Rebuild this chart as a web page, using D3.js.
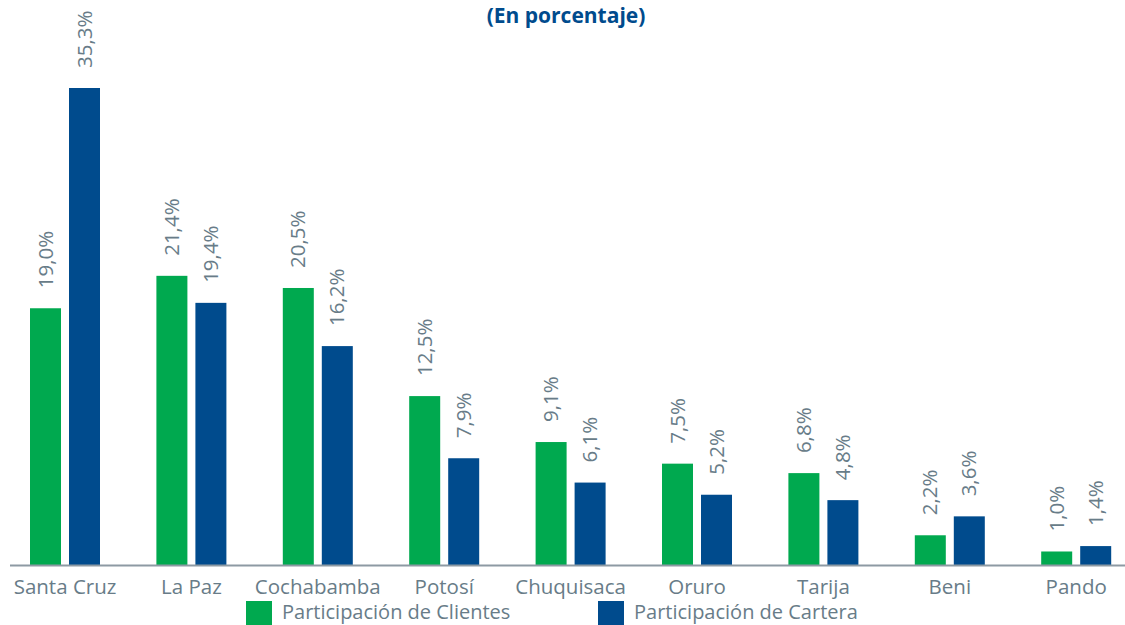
<!DOCTYPE html>
<html><head><meta charset="utf-8">
<script src="https://cdn.jsdelivr.net/npm/d3@7"></script>
<style>body{margin:0;background:#fff;} svg{display:block;}</style>
</head><body>
<svg id="chart" width="1125" height="625"></svg>
<script>
const categories = ["Santa Cruz","La Paz","Cochabamba","Potosí","Chuquisaca","Oruro","Tarija","Beni","Pando"];
const clientes = [19.0,21.4,20.5,12.5,9.1,7.5,6.8,2.2,1.0];
const cartera = [35.3,19.4,16.2,7.9,6.1,5.2,4.8,3.6,1.4];
const seriesNames = ["Participación de Clientes","Participación de Cartera"];
const colors = ["#00a94f","#004b8d"];
const title = "(En porcentaje)";

const svg = d3.select("#chart");
const font = "'Open Sans', sans-serif";
const textColor = "#687c88";
const y0 = 565;
const x = d3.scaleBand().domain(categories).range([1.8, 1139.4]).paddingInner(0).paddingOuter(0);
const y = d3.scaleLinear().domain([0, 35.3]).range([y0, 88]);
const barW = 31, gap = 8;
const fmt = v => v.toFixed(1).replace(".", ",") + "%";

svg.append("text").attr("x", 566).attr("y", 23).attr("text-anchor","middle")
  .attr("font-family", font).attr("font-weight","bold").attr("font-size",21)
  .attr("fill","#004b8d").text(title);

const data = categories.map((c,i)=>({c, vals:[clientes[i], cartera[i]]}));
const g = svg.append("g");
data.forEach(d=>{
  d.vals.forEach((v,k)=>{
    const cx = x(d.c) + x.bandwidth()/2;
    const bx = k===0 ? cx - gap/2 - barW : cx + gap/2;
    g.append("rect").attr("x", bx).attr("y", y(v)).attr("width", barW).attr("height", y0 - y(v)).attr("fill", colors[k]);
    const lx = bx + barW/2, ly = y(v) - 20;
    g.append("text").attr("transform", `translate(${lx + 7},${ly}) rotate(-90)`)
      .attr("font-family", font).attr("font-size", 20.5).attr("fill", textColor)
      .attr("text-anchor","start").text(fmt(v));
  });
});

// axis
const axis = d3.axisBottom(x).tickSize(0).tickPadding(12);
const ax = svg.append("g").attr("transform", `translate(0,${y0})`).call(axis);
ax.select(".domain").remove();
ax.selectAll("text").attr("font-family", font).attr("font-size", 20.5).attr("fill", textColor).attr("dy","0.85em");
svg.append("line").attr("x1",10).attr("x2",1125).attr("y1",y0+0.5).attr("y2",y0+0.5).attr("stroke","#8d9aa3").attr("stroke-width",2);

// legend
const legend = [{x:246, name:seriesNames[0], c:colors[0]},{x:598, name:seriesNames[1], c:colors[1]}];
legend.forEach(l=>{
  svg.append("rect").attr("x", l.x).attr("y", 601).attr("width", 26).attr("height", 24).attr("fill", l.c);
  svg.append("text").attr("x", l.x + 36).attr("y", 619).attr("font-family", font).attr("font-size", 20).attr("fill", textColor).text(l.name);
});
</script>
</body></html>
